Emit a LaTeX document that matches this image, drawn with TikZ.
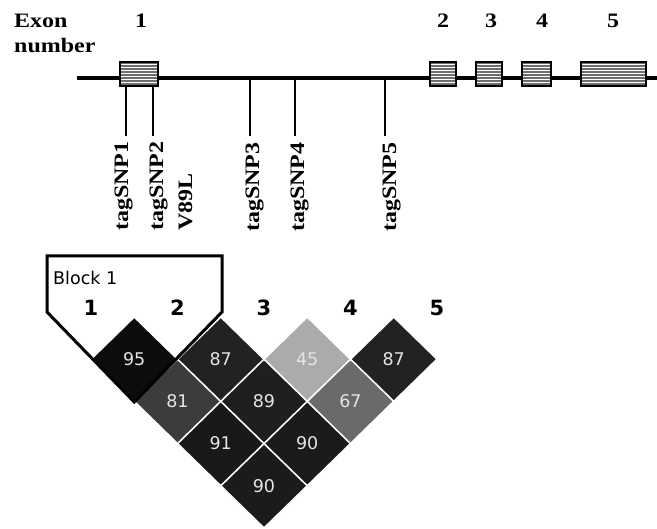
\documentclass[tikz,border=0pt]{standalone}
\usepackage{fontspec}
\usetikzlibrary{shapes.geometric}
\newfontfamily\tnr[FakeStretch=1.17]{Liberation Serif}
\newfontfamily\dvs{DejaVu Sans}
\definecolor{c95}{HTML}{0B0D0B}
\definecolor{c87}{HTML}{212321}
\definecolor{c45}{HTML}{ABABAB}
\definecolor{c81}{HTML}{3C3C3C}
\definecolor{c89}{HTML}{1F1F1F}
\definecolor{c67}{HTML}{6B696B}
\definecolor{c91}{HTML}{191919}
\definecolor{c90}{HTML}{1A1C1A}
\definecolor{ldtext}{HTML}{E4E4E4}
\definecolor{stripe}{HTML}{6E6E6E}
\begin{document}
\begin{tikzpicture}[x=1pt,y=-1pt,
  serifb/.style={font=\tnr\bfseries\fontsize{20.5}{22}\selectfont, inner sep=0pt},
  snplabel/.style={serifb, rotate=90, anchor=base west},
  ldcell/.style={shape=diamond, draw=white, line width=1.2pt, inner sep=0pt,
    minimum width=86.5pt, minimum height=84.4pt,
    font=\dvs\fontsize{17.5}{19}\selectfont, text=ldtext},
  colnum/.style={font=\dvs\bfseries\fontsize{21}{23}\selectfont, inner sep=0pt},
  geneline/.style={line width=3.6pt},
  snpline/.style={line width=1.4pt},
  stripeline/.style={white, line width=1pt},
  exonborder/.style={draw=black, line width=1.3pt},
  blockline/.style={line width=3pt, line join=miter}]
\useasboundingbox (0,0) rectangle (657,529);

% gene line
\coordinate (gL) at (77,78);
\coordinate (gR) at (657,78);
\draw[geneline] (gL) -- (gR);

% exons
\foreach \xa/\xb/\nm in {120/158/e1,430/456/e2,476/502/e3,522/551/e4,581/646/e5}{
  \fill[stripe] (\xa,62) rectangle (\xb,86);
  \foreach \k in {1,...,7}{
    \draw[stripeline] (\xa,62+3*\k) -- (\xb,62+3*\k);
  }
  \draw[exonborder] (\xa,62) rectangle (\xb,86);
}

% labels at top
\node[serifb, anchor=base west] (exon) at (14,28) {Exon};
\node[serifb, anchor=base west] (number) at (14,53) {number};
\node[serifb, anchor=base] (n1) at (141,28) {1};
\node[serifb, anchor=base] (n2) at (443,28) {2};
\node[serifb, anchor=base] (n3) at (491,28) {3};
\node[serifb, anchor=base] (n4) at (542,28) {4};
\node[serifb, anchor=base] (n5) at (613,28) {5};

% SNP ticks
\coordinate (s1t) at (126,86);  \coordinate (s1b) at (126,136);
\coordinate (s2t) at (153,86);  \coordinate (s2b) at (153,136);
\coordinate (s3t) at (250,78);  \coordinate (s3b) at (250,136);
\coordinate (s4t) at (295,78);  \coordinate (s4b) at (295,136);
\coordinate (s5t) at (385,78);  \coordinate (s5b) at (385,136);
\draw[snpline] (s1t) -- (s1b);
\draw[snpline] (s2t) -- (s2b);
\draw[snpline] (s3t) -- (s3b);
\draw[snpline] (s4t) -- (s4b);
\draw[snpline] (s5t) -- (s5b);

\node[snplabel] (l1) at (128,231) {tagSNP1};
\node[snplabel] (l2) at (163,231) {tagSNP2};
\node[snplabel] (l2b) at (192,231) {V89L};
\node[snplabel] (l3) at (259,232) {tagSNP3};
\node[snplabel] (l4) at (304,232) {tagSNP4};
\node[snplabel] (l5) at (396,232) {tagSNP5};

% LD plot
\node[ldcell, fill=c95] (d12) at (134.25,359.2) {95};
\node[ldcell, fill=c87] (d23) at (220.75,359.2) {87};
\node[ldcell, fill=c45] (d34) at (307.25,359.2) {45};
\node[ldcell, fill=c87] (d45) at (393.75,359.2) {87};
\node[ldcell, fill=c81] (d13) at (177.5,401.4) {81};
\node[ldcell, fill=c89] (d24) at (264,401.4) {89};
\node[ldcell, fill=c67] (d35) at (350.5,401.4) {67};
\node[ldcell, fill=c91] (d14) at (220.75,443.6) {91};
\node[ldcell, fill=c90] (d25) at (307.25,443.6) {90};
\node[ldcell, fill=c90] (d15) at (264,485.8) {90};

% column numbers
\node[colnum] (c1) at (91,308) {1};
\node[colnum] (c2) at (177.5,308) {2};
\node[colnum] (c3) at (264,308) {3};
\node[colnum] (c4) at (350.5,308) {4};
\node[colnum] (c5) at (437,308) {5};

% block outline
\coordinate (b1) at (47,256);
\coordinate (b2) at (222,256);
\coordinate (b3) at (222,312);
\coordinate (b5) at (47,312);
\draw[blockline] (b1) -- (b2) -- (b3) -- (d12.south) -- (b5) -- cycle;
\node[font=\dvs\fontsize{17.5}{19}\selectfont, inner sep=0pt, anchor=west] (blk) at (53,278) {Block 1};

\end{tikzpicture}
\end{document}
